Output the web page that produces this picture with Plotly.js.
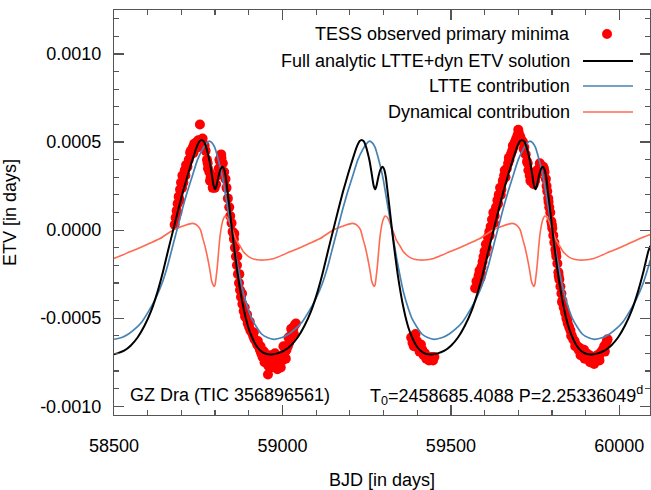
<!DOCTYPE html>
<html>
<head>
<meta charset="utf-8">
<script src="https://cdn.plot.ly/plotly-3.0.1.min.js"></script>
<style>html,body{margin:0;padding:0;background:#fff;}#chart{width:651px;height:490px;}</style>
</head>
<body>
<div id="chart"></div>
<script>
// ---------- data ----------
const obsX = [58680,58683,58686,58689,58692,58696,58699,58703,58706,58710,58714,58718,58722,58726,58730,58734,58738,58742,58746,58750,58755,58757,58761,58765,58769,58772,58776,58779,58783,58787,58791,58795,58799,58803,58807,58811,58815,58819,58823,58827,58831,58834,58838,58842,58845,58849,58852,58856,58859,58862,58865,58868,58871,58874,58877,58881,58885,58889,58893,58897,58901,58905,58909,58913,58917,58921,58925,58929,58933,58937,58941,58945,58949,58953,58957,58960,58964,58968,58972,58976,58980,58984,58988,58992,58996,59000,59004,59008,59012,59016,59020,59024,59028,59032,59036,
58688,58695,58702,58712,58728,58736,58748,58763,58778,58785,58793,58813,58818,58857,58866,58872,58880,58888,58895,58903,58915,58927,58935,58947,58958,58966,58978,58985,58995,59003,59010,59018,59026,59034,59040,
59382,59386,59390,59395,59399,59403,59407,59411,59415,59419,59423,59427,59431,59435,59439,59443,59447,59451,
59572,59576,59579,59582,59585,59588,59591,59594,59597,59600,59604,59607,59610,59614,59618,59622,59626,59630,59634,59638,59642,59646,59650,59654,59658,59662,59666,59670,59674,59678,59682,59686,59690,59694,59698,59702,59706,59710,59714,59718,59722,59726,59730,59734,59738,59742,59746,59750,59754,59758,59762,59766,59770,59774,59778,59782,59786,59789,59792,59795,59798,59801,59804,59807,59810,59813,59816,59819,59822,59825,59828,59831,59835,59839,59843,59847,59851,59855,59859,59863,59867,59871,59875,59879,59883,59887,59891,59895,59899,59903,59907,59911,59915,59919,59923,59927,59931,59935,59939,59943,59947,59951,59955,59959,59963,
59590,59603,59615,59628,59640,59648,59660,59672,59684,59700,59704,59716,59728,59736,59744,59756,59764,59776,59784,59790,59800,59812,59820,59830,59845,59857,59869,59885,59897,59913,59925,59941,59957,59965];
const obsY = [0.00003,0.00007,0.00011,0.00015,0.00019,0.00023,0.00027,0.00031,0.00027,0.00034,0.00037,0.00036,0.00040,0.00044,0.00043,0.00047,0.00049,0.00048,0.00050,0.00051,0.00060,0.00051,0.00050,0.00049,0.00048,0.00045,0.00040,0.00035,0.00033,0.00030,0.00028,0.00025,0.00024,0.00026,0.00031,0.00035,0.00039,0.00041,0.00038,0.00033,0.00029,0.00024,0.00018,0.00013,0.00008,0.00004,-0.00001,-0.00005,-0.00010,-0.00015,-0.00020,-0.00025,-0.00030,-0.00034,-0.00038,-0.00042,-0.00046,-0.00049,-0.00050,-0.00053,-0.00055,-0.00057,-0.00058,-0.00060,-0.00062,-0.00063,-0.00065,-0.00066,-0.00068,-0.00070,-0.00072,-0.00069,-0.00071,-0.00074,-0.00082,-0.00073,-0.00071,-0.00075,-0.00074,-0.00072,-0.00076,-0.00073,-0.00077,-0.00075,-0.00072,-0.00074,-0.00071,-0.00069,-0.00068,-0.00066,-0.00064,-0.00062,-0.00059,-0.00056,-0.00054,
0.00010,0.00017,0.00024,0.00031,0.00045,0.00044,0.00047,0.00052,0.00038,0.00028,0.00024,0.00040,0.00043,-0.00002,-0.00015,-0.00025,-0.00036,-0.00044,-0.00048,-0.00052,-0.00058,-0.00063,-0.00066,-0.00075,-0.00077,-0.00078,-0.00070,-0.00079,-0.00078,-0.00066,-0.00073,-0.00061,-0.00056,-0.00059,-0.00053,
-0.00061,-0.00064,-0.00066,-0.00059,-0.00063,-0.00066,-0.00069,-0.00065,-0.00068,-0.00071,-0.00070,-0.00073,-0.00072,-0.00074,-0.00073,-0.00072,-0.00074,-0.00072,
-0.00033,-0.00029,-0.00031,-0.00026,-0.00023,-0.00027,-0.00021,-0.00018,-0.00015,-0.00012,-0.00008,-0.00010,-0.00004,-0.00001,0.00002,0.00006,0.00010,0.00008,0.00013,0.00017,0.00020,0.00024,0.00023,0.00028,0.00031,0.00030,0.00035,0.00038,0.00040,0.00043,0.00045,0.00047,0.00050,0.00052,0.00054,0.00055,0.00053,0.00051,0.00050,0.00047,0.00043,0.00039,0.00034,0.00031,0.00029,0.00027,0.00026,0.00028,0.00031,0.00033,0.00035,0.00036,0.00034,0.00036,0.00033,0.00029,0.00022,0.00018,0.00013,0.00010,0.00005,0.00001,-0.00003,-0.00007,-0.00011,-0.00015,-0.00019,-0.00024,-0.00028,-0.00032,-0.00036,-0.00040,-0.00044,-0.00047,-0.00050,-0.00053,-0.00055,-0.00057,-0.00060,-0.00062,-0.00063,-0.00065,-0.00066,-0.00068,-0.00067,-0.00069,-0.00070,-0.00068,-0.00071,-0.00070,-0.00072,-0.00071,-0.00073,-0.00072,-0.00074,-0.00072,-0.00073,-0.00071,-0.00072,-0.00070,-0.00069,-0.00068,-0.00066,-0.00065,-0.00063,
-0.00025,-0.00013,-0.00003,0.00004,0.00015,0.00020,0.00034,0.00041,0.00048,0.00057,0.00052,0.00046,0.00038,0.00028,0.00030,0.00034,0.00038,0.00035,0.00025,0.00016,0.00003,-0.00013,-0.00026,-0.00041,-0.00051,-0.00060,-0.00066,-0.00071,-0.00073,-0.00075,-0.00076,-0.00074,-0.00069,-0.00062];

const fullX = [58500,58510,58530,58550,58570,58590,58610,58630,58645,58660,58675,58690,58705,58720,58733,58745,58754,58760,58766,58772,58778,58784,58790,58796,58800,58804,58810,58816,58822,58827,58832,58837,58842,58848,58854,58860,58867,58874,58882,58890,58900,58910,58922,58935,58950,58968,
58985,59005,59025,59045,59065,59085,59105,59120,59135,59150,59165,59180,59195,59208,59220,59229,59235,59241,59247,59253,59259,59265,59271,59275,59279,59285,59291,59297,59302,59307,59312,59317,59323,59329,59335,59342,59349,59357,59365,59375,59385,59397,59410,59425,59443,
59461,59481,59501,59521,59541,59561,59581,59596,59611,59626,59641,59656,59671,59684,59696,59705,59711,59717,59723,59729,59735,59741,59747,59751,59755,59761,59767,59773,59778,59783,59788,59793,59799,59805,59811,59818,59825,59833,59841,59851,59861,59873,59886,59901,59919,
59936,59956,59976,59996,60016,60036,60056,60071,60086,60092];
const fullY = [-0.000705,-0.000700,-0.000685,-0.000655,-0.000610,-0.000545,-0.000460,-0.000345,-0.000240,-0.000120,-0.000005,0.000110,0.000220,0.000320,0.000400,0.000470,0.000505,0.000512,0.000505,0.000480,0.000440,0.000390,0.000320,0.000250,0.000232,0.000250,0.000305,0.000345,0.000360,0.000345,0.000300,0.000220,0.000140,0.000040,-0.000060,-0.000150,-0.000250,-0.000335,-0.000420,-0.000490,-0.000560,-0.000610,-0.000655,-0.000685,-0.000702,-0.000706,
-0.000700,-0.000685,-0.000655,-0.000610,-0.000545,-0.000460,-0.000345,-0.000240,-0.000120,-0.000005,0.000110,0.000220,0.000320,0.000400,0.000470,0.000505,0.000512,0.000505,0.000480,0.000440,0.000390,0.000320,0.000250,0.000232,0.000250,0.000305,0.000345,0.000360,0.000345,0.000300,0.000220,0.000140,0.000040,-0.000060,-0.000150,-0.000250,-0.000335,-0.000420,-0.000490,-0.000560,-0.000610,-0.000655,-0.000685,-0.000702,-0.000706,
-0.000700,-0.000685,-0.000655,-0.000610,-0.000545,-0.000460,-0.000345,-0.000240,-0.000120,-0.000005,0.000110,0.000220,0.000320,0.000400,0.000470,0.000505,0.000512,0.000505,0.000480,0.000440,0.000390,0.000320,0.000250,0.000232,0.000250,0.000305,0.000345,0.000360,0.000345,0.000300,0.000220,0.000140,0.000040,-0.000060,-0.000150,-0.000250,-0.000335,-0.000420,-0.000490,-0.000560,-0.000610,-0.000655,-0.000685,-0.000702,-0.000706,
-0.000700,-0.000685,-0.000655,-0.000610,-0.000545,-0.000460,-0.000345,-0.000240,-0.000120,-0.000090];

const ltteX = [58500,58523,58543,58563,58583,58603,58623,58643,58658,58673,58688,58703,58718,58733,58748,58763,58773,58783,58791,58799,58807,58815,58823,58831,58839,58847,58855,58863,58873,58883,58895,58908,58923,58938,58955,58974,
58999,59019,59039,59059,59079,59099,59119,59134,59149,59164,59179,59194,59209,59224,59239,59249,59259,59267,59275,59283,59291,59299,59307,59315,59323,59331,59339,59349,59359,59371,59384,59399,59414,59431,59450,
59475,59495,59515,59535,59555,59575,59595,59610,59625,59640,59655,59670,59685,59700,59715,59725,59735,59743,59751,59759,59767,59775,59783,59791,59799,59807,59815,59825,59835,59847,59860,59875,59890,59907,59926,
59951,59971,59991,60011,60031,60051,60071,60086,60092];
const ltteY = [-0.00062,-0.00061,-0.00059,-0.00056,-0.00052,-0.00046,-0.00039,-0.00030,-0.00021,-0.00010,0.00001,0.00012,0.00022,0.00031,0.00040,0.00046,0.00049,0.000505,0.000495,0.00047,0.00042,0.00036,0.00029,0.00020,0.00011,0.00002,-0.00007,-0.00016,-0.00026,-0.00035,-0.00043,-0.00050,-0.00055,-0.00059,-0.00061,-0.00062,
-0.00061,-0.00059,-0.00056,-0.00052,-0.00046,-0.00039,-0.00030,-0.00021,-0.00010,0.00001,0.00012,0.00022,0.00031,0.00040,0.00046,0.00049,0.000505,0.000495,0.00047,0.00042,0.00036,0.00029,0.00020,0.00011,0.00002,-0.00007,-0.00016,-0.00026,-0.00035,-0.00043,-0.00050,-0.00055,-0.00059,-0.00061,-0.00062,
-0.00061,-0.00059,-0.00056,-0.00052,-0.00046,-0.00039,-0.00030,-0.00021,-0.00010,0.00001,0.00012,0.00022,0.00031,0.00040,0.00046,0.00049,0.000505,0.000495,0.00047,0.00042,0.00036,0.00029,0.00020,0.00011,0.00002,-0.00007,-0.00016,-0.00026,-0.00035,-0.00043,-0.00050,-0.00055,-0.00059,-0.00061,-0.00062,
-0.00061,-0.00059,-0.00056,-0.00052,-0.00046,-0.00039,-0.00030,-0.00021,-0.00017];

const dynX = [58500,58527,58547,58577,58606,58637,58665,58687,58705,58722,58733,58742,58750,58757,58764,58770,58777,58784,58790,58794,58797,58800,58803,58807,58811,58815,58819,58824,58830,58837,58844,58854,58864,58874,58883,58893,58903,58917,58933,58945,
58975,59002,59022,59052,59081,59112,59140,59162,59180,59197,59208,59217,59225,59232,59239,59245,59252,59259,59265,59269,59272,59275,59278,59282,59286,59290,59294,59299,59305,59312,59319,59329,59339,59349,59358,59368,59378,59392,59408,59420,
59449,59476,59496,59526,59555,59586,59614,59636,59654,59671,59682,59691,59699,59706,59713,59719,59726,59733,59739,59743,59746,59749,59752,59756,59760,59764,59768,59773,59779,59786,59793,59803,59813,59823,59832,59842,59852,59866,59882,59894,
59924,59951,59971,60001,60030,60061,60092];
const dynY = [-0.000161,-0.00014,-0.000123,-0.0001,-0.000075,-0.000048,-0.000012,0.00001,0.000023,0.000034,0.000038,0.000033,0.00002,0.0,-0.00005,-0.00009,-0.00015,-0.00022,-0.00029,-0.00031,-0.00032,-0.00031,-0.00027,-0.0002,-0.00011,-0.00003,0.00002,0.00006,0.00008,0.00007,0.00004,-0.00001,-0.00006,-0.00009,-0.00012,-0.00014,-0.000155,-0.000165,-0.00017,-0.00017,
-0.000161,-0.00014,-0.000123,-0.0001,-0.000075,-0.000048,-0.000012,0.00001,0.000023,0.000034,0.000038,0.000033,0.00002,0.0,-0.00005,-0.00009,-0.00015,-0.00022,-0.00029,-0.00031,-0.00032,-0.00031,-0.00027,-0.0002,-0.00011,-0.00003,0.00002,0.00006,0.00008,0.00007,0.00004,-0.00001,-0.00006,-0.00009,-0.00012,-0.00014,-0.000155,-0.000165,-0.00017,-0.00017,
-0.000161,-0.00014,-0.000123,-0.0001,-0.000075,-0.000048,-0.000012,0.00001,0.000023,0.000034,0.000038,0.000033,0.00002,0.0,-0.00005,-0.00009,-0.00015,-0.00022,-0.00029,-0.00031,-0.00032,-0.00031,-0.00027,-0.0002,-0.00011,-0.00003,0.00002,0.00006,0.00008,0.00007,0.00004,-0.00001,-0.00006,-0.00009,-0.00012,-0.00014,-0.000155,-0.000165,-0.00017,-0.00017,
-0.000161,-0.00014,-0.000123,-0.0001,-0.000075,-0.000048,-0.000025];

const xTickVals = [58500,59000,59500,60000];
const xTickText = ['58500','59000','59500','60000'];
const yTickVals = [0.0010,0.0005,0.0,-0.0005,-0.0010];
const yTickText = ['0.0010','0.0005','0.0000','-0.0005','-0.0010'];
const legendLabels = ['TESS observed primary minima','Full analytic LTTE+dyn ETV solution','LTTE contribution','Dynamical contribution'];
const seriesColors = ['#ff0000','#000000','#4682b4','#ff6a50'];
const starLabel = 'GZ Dra (TIC 356896561)';
const ephemLabel = 'T<sub>0</sub>=2458685.4088 P=2.25336049<sup>d</sup>';

// ---------- chart ----------
const FONT = 'Liberation Sans, Arial, Helvetica, sans-serif';
const frame = '#555555';
const traces = [
  {x: obsX, y: obsY, type:'scatter', mode:'markers', name: legendLabels[0],
   marker:{color: seriesColors[0], size:10, line:{width:0}}},
  {x: dynX, y: dynY, type:'scatter', mode:'lines', name: legendLabels[3],
   line:{color: seriesColors[3], width:1.6, shape:'spline', smoothing:0.6}},
  {x: ltteX, y: ltteY, type:'scatter', mode:'lines', name: legendLabels[2],
   line:{color: seriesColors[2], width:1.7, shape:'spline', smoothing:0.6}},
  {x: fullX, y: fullY, type:'scatter', mode:'lines', name: legendLabels[1],
   line:{color: seriesColors[1], width:2, shape:'spline', smoothing:0.6}}
];

// legend drawn inside the frame, text right-aligned with the sample on the right
const rowY = [0.9407, 0.8741, 0.8123, 0.7481];
const txtX = 0.8545, lnX0 = 0.875, lnX1 = 0.9683, dotX = 0.9198;
const annotations = legendLabels.map((t,i) => ({
  xref:'paper', yref:'paper', x: txtX, y: rowY[i], xanchor:'right', yanchor:'middle',
  text: t, showarrow:false, font:{family:FONT, size:18, color:'#000'}
}));
annotations.push({xref:'paper', yref:'paper', x:0.026, y:0.049, xanchor:'left', yanchor:'middle',
  text: starLabel, showarrow:false, font:{family:FONT, size:18, color:'#000'}});
annotations.push({xref:'paper', yref:'paper', x:0.991, y:0.049, xanchor:'right', yanchor:'middle',
  text: ephemLabel, showarrow:false, font:{family:FONT, size:18, color:'#000'}});

const shapes = [
  {type:'circle', xref:'paper', yref:'paper', xsizemode:'pixel', ysizemode:'pixel',
   xanchor: dotX, yanchor: rowY[0], x0:-5, x1:5, y0:-5, y1:5,
   fillcolor: seriesColors[0], line:{width:0}}
];
for (let i=1;i<4;i++){
  shapes.push({type:'line', xref:'paper', yref:'paper', x0:lnX0, x1:lnX1, y0:rowY[i], y1:rowY[i],
    line:{color: seriesColors[i], width: i===1?2:1.7}});
}

const axisCommon = {
  showline:true, linecolor:frame, linewidth:1.2, mirror:'allticks',
  ticks:'inside', ticklen:10, tickwidth:1.2, tickcolor:frame,
  showgrid:false, zeroline:false, tickmode:'array',
  tickfont:{family:FONT, size:18, color:'#000'}
};
const layout = {
  width:651, height:490,
  margin:{l:114, r:1, t:10, b:75, pad:0},
  paper_bgcolor:'#ffffff', plot_bgcolor:'#ffffff',
  showlegend:false,
  font:{family:FONT, size:18, color:'#000'},
  xaxis: Object.assign({}, axisCommon, {
    range:[58500, 60091], tickvals:xTickVals, ticktext:xTickText,
    ticklabelstandoff: 14,
    minor:{tickmode:'linear', tick0:58500, dtick:100, ticks:'inside', ticklen:5, tickwidth:1.2, tickcolor:frame, showgrid:false},
    title:{text:'BJD [in days]', standoff:20, font:{family:FONT, size:18, color:'#000'}}
  }),
  yaxis: Object.assign({}, axisCommon, {
    range:[-0.00105, 0.00125], tickvals:yTickVals, ticktext:yTickText,
    ticklabelstandoff: 8,
    minor:{tickmode:'linear', tick0:0, dtick:0.0001, ticks:'inside', ticklen:5, tickwidth:1.2, tickcolor:frame, showgrid:false},
    title:{text:'ETV [in days]', standoff:20, font:{family:FONT, size:18, color:'#000'}}
  }),
  annotations: annotations,
  shapes: shapes
};
Plotly.newPlot('chart', traces, layout, {staticPlot:true, displayModeBar:false});
</script>
</body>
</html>
